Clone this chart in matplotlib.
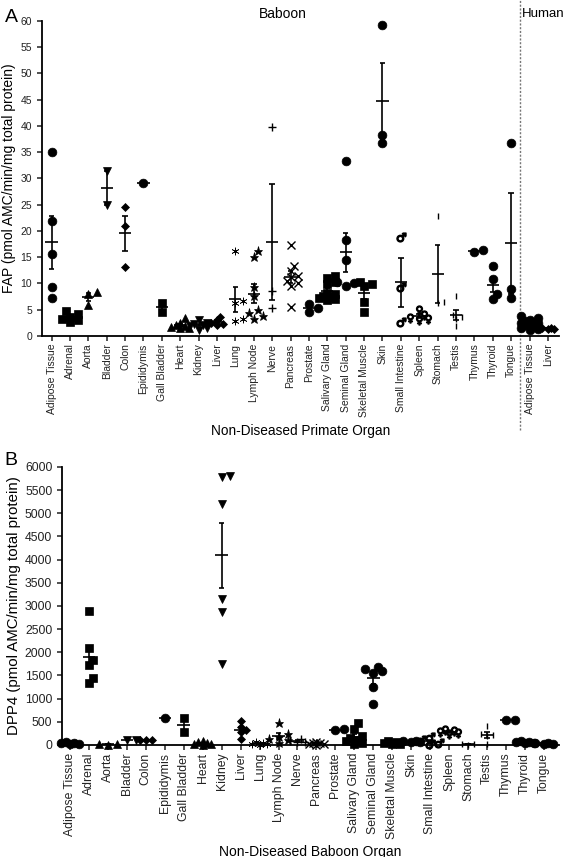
import matplotlib
matplotlib.use("Agg")
import numpy as np
import matplotlib.pyplot as plt
import matplotlib.transforms as mtransforms

plt.rcParams['font.family'] = ['Liberation Sans', 'DejaVu Sans']

# ---- data: panel A, FAP activity ----
fap_organs = ["Adipose Tissue", "Adrenal", "Aorta", "Bladder", "Colon", "Epididymis",
              "Gall Bladder", "Heart", "Kidney", "Liver", "Lung", "Lymph Node", "Nerve",
              "Pancreas", "Prostate", "Salivary Gland", "Seminal Gland", "Skeletal Muscle",
              "Skin", "Small Intestine", "Spleen", "Stomach", "Testis", "Thymus", "Thyroid",
              "Tongue", "Adipose Tissue ", "Liver "]
fap_values = [
    [35.0, 21.8, 15.6, 9.4, 7.3],
    [4.7, 4.2, 3.7, 3.3, 3.0, 2.6],
    [8.3, 7.9, 5.9],
    [31.5, 25.0],
    [24.5, 21.0, 13.2],
    [29.2],
    [4.6, 6.3],
    [3.5, 2.5, 2.0, 1.8, 1.6, 1.5, 1.7],
    [3.0, 2.5, 2.2, 1.8, 1.5, 1.2, 2.0],
    [3.6, 3.0, 2.5, 2.2, 2.0],
    [16.1, 6.6, 6.3, 3.3, 2.8],
    [16.2, 15.0, 9.4, 7.7, 4.9, 4.3, 3.8, 3.3],
    [39.8, 8.5, 5.3],
    [17.3, 13.3, 12.3, 11.4, 11.2, 10.4, 10.0, 9.6, 5.5],
    [4.5, 5.3, 6.1],
    [11.5, 11.0, 10.3, 9.8, 8.2, 7.9, 7.6, 7.5, 7.3, 7.0, 6.8],
    [33.3, 18.2, 14.4, 10.3, 10.0, 9.5],
    [10.3, 9.8, 9.5, 6.4, 4.6],
    [59.2, 38.2, 36.8],
    [18.8, 9.3, 2.7],
    [5.0, 4.0, 3.5, 3.2, 3.0],
    [22.8, 6.5, 6.2],
    [7.6, 4.0, 3.6, 3.3, 1.8],
    [16.0, 16.4],
    [13.4, 10.8, 7.9, 7.0],
    [36.8, 8.9, 7.2],
    [3.8, 3.4, 3.0, 2.9, 2.7, 2.5, 2.4, 2.2, 2.0, 1.8, 1.6, 1.4, 1.2],
    [1.5, 1.4, 1.3, 1.6],
]

# ---- data: panel B, DPP4 activity ----
dpp4_organs = fap_organs[:26]
dpp4_values = [
    [60, 40, 30, 20, 50],
    [2900, 2100, 1830, 1720, 1450, 1340],
    [20, 10, 15],
    [110, 110],
    [110, 100, 115],
    [590],
    [590, 270],
    [80, 50, 20, 10, 30, 60],
    [5800, 5780, 5200, 3150, 2870, 1740],
    [510, 380, 330, 280, 140],
    [70, 50, 30, 20, 10],
    [480, 230, 180, 130, 100, 50],
    [120, 90, 60, 70],
    [50, 40, 30, 20, 10, 60],
    [320, 340],
    [470, 350, 200, 150, 100, 80, 50, 30],
    [1680, 1640, 1600, 1560, 1250, 880],
    [90, 70, 50, 30, 20],
    [80, 70, 60, 90],
    [170, 100, 50, 20],
    [330, 310, 280, 250, 230],
    [30, 20, 10],
    [420, 230, 220, 200, 30],
    [530, 530],
    [70, 60, 50, 80, 40],
    [40, 30, 20, 50],
]

# marker style per organ
organ_marker = {
    "Adipose Tissue": "o", "Adrenal": "s", "Aorta": "^", "Bladder": "v", "Colon": "D",
    "Epididymis": "o", "Gall Bladder": "s", "Heart": "^", "Kidney": "v", "Liver": "D",
    "Lung": (6, 2, 0), "Lymph Node": "*", "Nerve": "+", "Pancreas": "x", "Prostate": "o",
    "Salivary Gland": "s", "Seminal Gland": "o", "Skeletal Muscle": "s", "Skin": "o",
    "Small Intestine": "$\u2642$", "Spleen": "$\u2640$", "Stomach": "|", "Testis": "|",
    "Thymus": "o", "Thyroid": "o", "Tongue": "o",
}


def marker_for(name):
    return organ_marker[name.strip()]


def marker_size(m):
    if m == "o":
        return 6.3
    if m == "s":
        return 5.8
    if m == "D":
        return 4.2
    if m in ("^", "v"):
        return 6.3
    if m == "*":
        return 6.5
    if m in ("+", "x"):
        return 5.5
    if m == "|":
        return 4.5
    if isinstance(m, str) and m.startswith("$"):
        return 6.5
    return 5.5


def swarm_x(ax, x0, vals, diam_px):
    # spread points with close values a little sideways
    vals = np.asarray(vals, dtype=float)
    pts = ax.transData.transform(np.column_stack([np.full(len(vals), x0), vals]))
    placed = []
    xs = np.zeros(len(vals))
    for i in np.argsort(vals):
        px, py = pts[i]
        best, best_d = px, -1
        for k in [0, 1, -1, 2, -2]:
            cx = px + k * diam_px * 0.5
            d = min([np.hypot(cx - qx, py - qy) for qx, qy in placed] or [1e9])
            if d >= 0.7 * diam_px:
                best = cx
                break
            if d > best_d:
                best, best_d = cx, d
        placed.append((best, py))
        xs[i] = best
    inv = ax.transData.inverted()
    return inv.transform(np.column_stack([xs, pts[:, 1]]))[:, 0]


def draw_panel(ax, organs, values):
    for i, (name, vals) in enumerate(zip(organs, values)):
        m = marker_for(name)
        ms = marker_size(m)
        xs = swarm_x(ax, i, vals, ms * 1.39)
        filled = m not in ("+", "x", "|") and not (isinstance(m, str) and m.startswith("$"))
        ax.plot(xs, vals, ls="none", marker=m, ms=ms, color="black",
                mec="black", mfc="black" if filled else "none",
                mew=1.0 if not filled else 0.5, clip_on=False, zorder=3)
        v = np.asarray(vals, dtype=float)
        mean = v.mean()
        sem = v.std(ddof=1) / np.sqrt(len(v)) if len(v) > 1 else 0
        ax.hlines(mean, i - 0.33, i + 0.33, color="black", lw=1.2, zorder=4)
        if sem > 0:
            ax.vlines(i, mean - sem, mean + sem, color="black", lw=1.2, zorder=4)
            ax.hlines([mean - sem, mean + sem], i - 0.15, i + 0.15, color="black", lw=1.2, zorder=4)


def style_axes(ax, fs):
    for s in ("top", "right"):
        ax.spines[s].set_visible(False)
    for s in ("left", "bottom"):
        ax.spines[s].set_linewidth(1.3)
    ax.tick_params(axis="both", direction="out", length=3.5, width=1.1,
                   labelsize=fs, colors="#222222")
    ax.tick_params(axis="x", pad=2)


fig = plt.figure(figsize=(5.65, 8.57), dpi=100)

# ---- Panel A ----
axA = fig.add_axes([0.0743, 0.608, 0.915, 0.3676])
axA.set_xlim(-0.52, 27.6)
axA.set_ylim(0, 60)
axA.set_yticks(np.arange(0, 61, 5))
axA.set_xticks(np.arange(len(fap_organs)))
axA.set_xticklabels([o.strip() for o in fap_organs], rotation=90)
style_axes(axA, 7.5)
draw_panel(axA, fap_organs, fap_values)
axA.set_ylabel("FAP (pmol AMC/min/mg total protein)", fontsize=10, labelpad=3)
axA.set_xlabel("Non-Diseased Primate Organ", fontsize=9.8, labelpad=5)

blend = mtransforms.blended_transform_factory(axA.transData, axA.transAxes)
axA.plot([25.5, 25.5], [-0.3, 1.07], transform=blend, color="#777777", lw=1.0,
         ls=(0, (1.5, 1.2)), clip_on=False)
axA.text(12.6, 1.022, "Baboon", transform=blend, ha="center", va="center", fontsize=10)
axA.text(25.56, 1.022, "Human", transform=blend, ha="left", va="center", fontsize=9.5)

# ---- Panel B ----
axB = fig.add_axes([0.1097, 0.1307, 0.88, 0.3244])
axB.set_xlim(-0.42, 25.8)
axB.set_ylim(0, 6000)
axB.set_yticks(np.arange(0, 6001, 500))
axB.set_xticks(np.arange(len(dpp4_organs)))
axB.set_xticklabels([o.strip() for o in dpp4_organs], rotation=90)
style_axes(axB, 8.8)
draw_panel(axB, dpp4_organs, dpp4_values)
axB.set_ylabel("DPP4 (pmol AMC/min/mg total protein)", fontsize=10.8, labelpad=3)
axB.set_xlabel("Non-Diseased Baboon Organ", fontsize=10, labelpad=4)

fig.text(0.008, 0.979, "A", fontsize=14, va="center")
fig.text(0.008, 0.463, "B", fontsize=14, va="center")

fig.savefig("out.png", dpi=100)
